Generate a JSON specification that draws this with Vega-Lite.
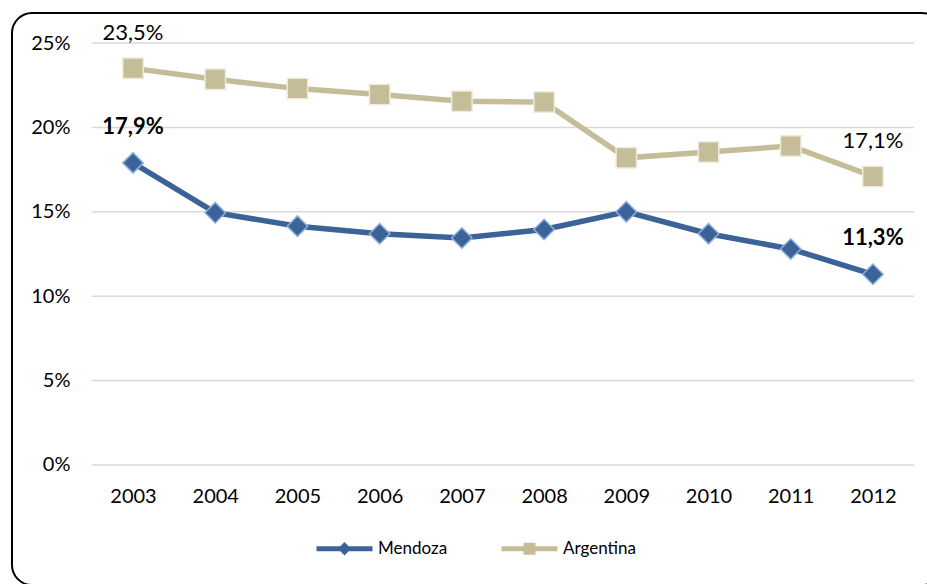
{
  "$schema": "https://vega.github.io/schema/vega-lite/v6.json",
  "autosize": {"type": "none"},
  "padding": {"left": 12, "top": 13, "right": 0, "bottom": 0},
  "width": 930,
  "height": 572,
  "background": "white",
  "config": {
    "font": "Lato",
    "view": {"stroke": "#000", "strokeWidth": 2, "cornerRadius": 20, "fill": "white"}
  },
  "datasets": {
    "series": [
      {"year": 2003, "series": "Mendoza", "value": 17.9, "label": "17,9%"},
      {"year": 2004, "series": "Mendoza", "value": 14.95},
      {"year": 2005, "series": "Mendoza", "value": 14.15},
      {"year": 2006, "series": "Mendoza", "value": 13.7},
      {"year": 2007, "series": "Mendoza", "value": 13.45},
      {"year": 2008, "series": "Mendoza", "value": 13.95},
      {"year": 2009, "series": "Mendoza", "value": 15.0},
      {"year": 2010, "series": "Mendoza", "value": 13.7},
      {"year": 2011, "series": "Mendoza", "value": 12.8},
      {"year": 2012, "series": "Mendoza", "value": 11.3, "label": "11,3%"},
      {"year": 2003, "series": "Argentina", "value": 23.5, "label": "23,5%"},
      {"year": 2004, "series": "Argentina", "value": 22.85},
      {"year": 2005, "series": "Argentina", "value": 22.3},
      {"year": 2006, "series": "Argentina", "value": 21.95},
      {"year": 2007, "series": "Argentina", "value": 21.55},
      {"year": 2008, "series": "Argentina", "value": 21.5},
      {"year": 2009, "series": "Argentina", "value": 18.2},
      {"year": 2010, "series": "Argentina", "value": 18.55},
      {"year": 2011, "series": "Argentina", "value": 18.9},
      {"year": 2012, "series": "Argentina", "value": 17.1, "label": "17,1%"}
    ],
    "grid": [{"v": 0}, {"v": 5}, {"v": 10}, {"v": 15}, {"v": 20}, {"v": 25}]
  },
  "layer": [
    {
      "data": {"name": "grid"},
      "mark": {"type": "rule", "color": "#d9d9d9", "strokeWidth": 1.5},
      "encoding": {
        "y": {"field": "v", "type": "quantitative", "scale": {"domain": [-7.11, 26.78], "nice": false, "zero": false}},
        "x": {"datum": 2002.5, "type": "quantitative", "scale": {"domain": [2001.528, 2012.84], "nice": false, "zero": false}},
        "x2": {"datum": 2012.5}
      }
    },
    {
      "data": {"name": "series"},
      "mark": {"type": "line", "strokeWidth": 5.5},
      "encoding": {
        "x": {"field": "year", "type": "quantitative",
          "axis": {"values": [2003, 2004, 2005, 2006, 2007, 2008, 2009, 2010, 2011, 2012], "format": "d", "domain": false, "ticks": false, "grid": false, "offset": -120, "labelPadding": 21, "labelFontSize": 20, "labelColor": "#000", "labelOverlap": false, "title": null, "labelFlush": false}},
        "y": {"field": "value", "type": "quantitative",
          "axis": {"values": [0, 5, 10, 15, 20, 25], "labelExpr": "datum.value + '%'", "domain": false, "ticks": false, "grid": false, "offset": -80, "labelPadding": 22, "labelFontSize": 20, "labelColor": "#000", "title": null}},
        "color": {"field": "series", "type": "nominal", "scale": {"domain": ["Mendoza", "Argentina"], "range": ["#3B6398", "#C4BD97"]}},
        "order": {"field": "year"}
      }
    },
    {
      "data": {"name": "series"},
      "transform": [{"filter": "datum.series === 'Mendoza'"}],
      "mark": {"type": "point", "shape": "diamond", "filled": true, "size": 420, "stroke": "#8EB0DE", "strokeWidth": 1.5, "opacity": 1},
      "encoding": {
        "x": {"field": "year", "type": "quantitative"},
        "y": {"field": "value", "type": "quantitative"},
        "color": {
          "field": "series", "type": "nominal",
          "scale": {"domain": ["Mendoza", "Argentina"], "range": ["#3B6398", "#C4BD97"]},
          "legend": {
            "orient": "none", "legendX": 303, "legendY": 527, "direction": "horizontal", "title": null,
            "padding": 0, "symbolSize": 196, "labelFontSize": 17, "labelOffset": 46, "columnPadding": 52,
            "labelColor": "#000", "symbolStrokeWidth": 0, "symbolOpacity": 1,
            "symbolType": {"expr": "datum.value === 'Mendoza' ? 'M-1,-0.36H7V0.36H-1Z M3,-0.95L3.95,0L3,0.95L2.05,0Z' : 'M-1,-0.36H7V0.36H-1Z M2.15,-0.85H3.85V0.85H2.15Z'"}
          }
        }
      }
    },
    {
      "data": {"name": "series"},
      "transform": [{"filter": "datum.series === 'Argentina'"}],
      "mark": {"type": "point", "shape": "square", "filled": true, "size": 420, "stroke": "#EFEBDC", "strokeWidth": 1.5, "opacity": 1},
      "encoding": {
        "x": {"field": "year", "type": "quantitative"},
        "y": {"field": "value", "type": "quantitative"},
        "color": {
          "field": "series", "type": "nominal",
          "scale": {"domain": ["Mendoza", "Argentina"], "range": ["#3B6398", "#C4BD97"]},
          "legend": {
            "orient": "none", "legendX": 303, "legendY": 527, "direction": "horizontal", "title": null,
            "padding": 0, "symbolSize": 196, "labelFontSize": 17, "labelOffset": 46, "columnPadding": 52,
            "labelColor": "#000", "symbolStrokeWidth": 0, "symbolOpacity": 1,
            "symbolType": {"expr": "datum.value === 'Mendoza' ? 'M-1,-0.36H7V0.36H-1Z M3,-0.95L3.95,0L3,0.95L2.05,0Z' : 'M-1,-0.36H7V0.36H-1Z M2.15,-0.85H3.85V0.85H2.15Z'"}
          }
        }
      }
    },
    {
      "data": {"name": "series"},
      "transform": [{"filter": "isValid(datum.label) && datum.series === 'Mendoza'"}],
      "mark": {"type": "text", "dy": -36, "fontSize": 22, "fontWeight": "bold", "color": "#000"},
      "encoding": {
        "x": {"field": "year", "type": "quantitative"},
        "y": {"field": "value", "type": "quantitative"},
        "text": {"field": "label"}
      }
    },
    {
      "data": {"name": "series"},
      "transform": [{"filter": "isValid(datum.label) && datum.series === 'Argentina'"}],
      "mark": {"type": "text", "dy": -35, "fontSize": 22, "color": "#000"},
      "encoding": {
        "x": {"field": "year", "type": "quantitative"},
        "y": {"field": "value", "type": "quantitative"},
        "text": {"field": "label"}
      }
    }
  ]
}
